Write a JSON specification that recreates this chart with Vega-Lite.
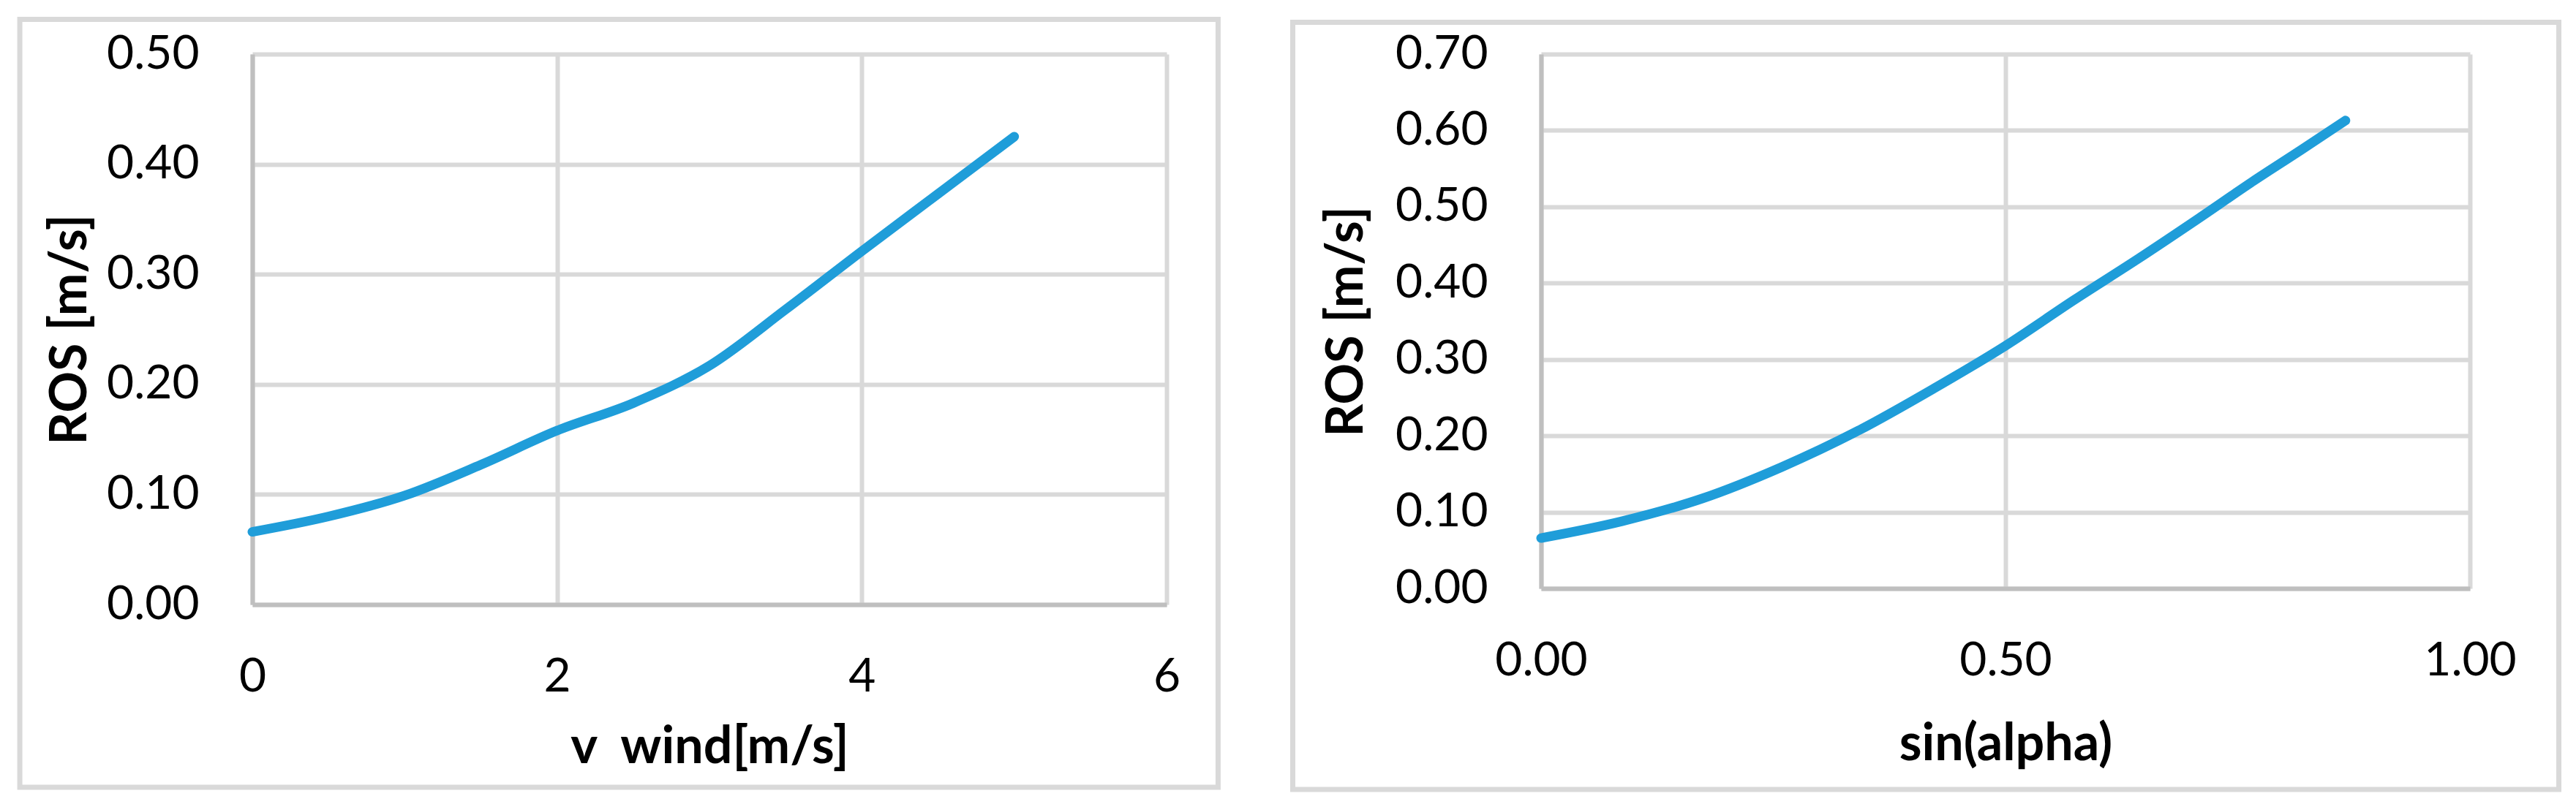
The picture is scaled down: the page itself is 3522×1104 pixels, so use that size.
{
  "$schema": "https://vega.github.io/schema/vega-lite/v6.json",
  "padding": {"left": 23, "top": 22, "right": 20, "bottom": 23},
  "background": "white",
  "spacing": 95,
  "datasets": {
    "wind": [
      {"v_wind": 0, "ros": 0.066},
      {"v_wind": 0.5, "ros": 0.080},
      {"v_wind": 1, "ros": 0.099},
      {"v_wind": 1.5, "ros": 0.127},
      {"v_wind": 2, "ros": 0.158},
      {"v_wind": 2.5, "ros": 0.183},
      {"v_wind": 3, "ros": 0.217},
      {"v_wind": 3.5, "ros": 0.268},
      {"v_wind": 4, "ros": 0.321},
      {"v_wind": 4.5, "ros": 0.373},
      {"v_wind": 5, "ros": 0.425}
    ],
    "slope": [
      {"sin_alpha": 0, "ros": 0.066},
      {"sin_alpha": 0.087, "ros": 0.088},
      {"sin_alpha": 0.174, "ros": 0.118},
      {"sin_alpha": 0.259, "ros": 0.159},
      {"sin_alpha": 0.342, "ros": 0.207},
      {"sin_alpha": 0.423, "ros": 0.262},
      {"sin_alpha": 0.5, "ros": 0.318},
      {"sin_alpha": 0.574, "ros": 0.378},
      {"sin_alpha": 0.643, "ros": 0.432},
      {"sin_alpha": 0.707, "ros": 0.484},
      {"sin_alpha": 0.766, "ros": 0.533},
      {"sin_alpha": 0.819, "ros": 0.575},
      {"sin_alpha": 0.866, "ros": 0.613}
    ],
    "frame": [{"panel": "frame"}]
  },
  "hconcat": [
    {
      "width": 1250,
      "height": 753,
      "layer": [
        {
          "data": {"name": "wind"},
          "mark": {"type": "line", "interpolate": "monotone", "color": "#1F9DD9", "strokeWidth": 13, "strokeCap": "round", "strokeJoin": "round"},
          "encoding": {
            "x": {
              "field": "v_wind", "type": "quantitative",
              "scale": {"domain": [0, 6], "nice": false, "zero": false, "padding": 0},
              "axis": {"title": "v\u00a0 wind[m/s]", "values": [0, 2, 4, 6], "format": "d", "labelPadding": 67, "titlePadding": 30}
            },
            "y": {
              "field": "ros", "type": "quantitative",
              "scale": {"domain": [0, 0.5], "nice": false, "padding": 0},
              "axis": {"title": "ROS [m/s]", "values": [0, 0.1, 0.2, 0.3, 0.4, 0.5], "format": ".2f", "labelPadding": 73, "titlePadding": 13}
            }
          }
        },
        {
          "data": {"name": "frame"},
          "mark": {"type": "rect", "filled": false, "stroke": "#D9D9D9", "strokeWidth": 7, "clip": false},
          "encoding": {
            "x": {"datum": -1.526, "type": "quantitative"},
            "x2": {"datum": 6.338},
            "y": {"datum": 0.5316, "type": "quantitative"},
            "y2": {"datum": -0.166}
          }
        }
      ]
    },
    {
      "width": 1270,
      "height": 731,
      "layer": [
        {
          "data": {"name": "slope"},
          "mark": {"type": "line", "interpolate": "monotone", "color": "#1F9DD9", "strokeWidth": 13, "strokeCap": "round", "strokeJoin": "round"},
          "encoding": {
            "x": {
              "field": "sin_alpha", "type": "quantitative",
              "scale": {"domain": [0, 1], "nice": false, "padding": 0},
              "axis": {"title": "sin(alpha)", "values": [0, 0.5, 1], "format": ".2f", "labelPadding": 67, "titlePadding": 48}
            },
            "y": {
              "field": "ros", "type": "quantitative",
              "scale": {"domain": [0, 0.7], "nice": false, "padding": 0},
              "axis": {"title": "ROS [m/s]", "values": [0, 0.1, 0.2, 0.3, 0.4, 0.5, 0.6, 0.7], "format": ".2f", "labelPadding": 73, "titlePadding": 30}
            }
          }
        },
        {
          "data": {"name": "frame"},
          "mark": {"type": "rect", "filled": false, "stroke": "#D9D9D9", "strokeWidth": 7, "clip": false},
          "encoding": {
            "x": {"datum": -0.2673, "type": "quantitative"},
            "x2": {"datum": 1.0957},
            "y": {"datum": 0.7416, "type": "quantitative"},
            "y2": {"datum": -0.2633}
          }
        }
      ]
    }
  ],
  "config": {
    "view": {"stroke": null},
    "font": "Lato",
    "scale": {"continuousPadding": 0},
    "axis": {
      "domainColor": "#BFBFBF",
      "domainWidth": 6,
      "grid": true,
      "gridColor": "#D9D9D9",
      "gridWidth": 6,
      "ticks": false,
      "tickSize": 0,
      "labelFlush": false,
      "labelOverlap": false,
      "labelFont": "Lato",
      "labelFontSize": 64,
      "labelColor": "#000000",
      "titleFont": "Lato",
      "titleFontSize": 70,
      "titleFontWeight": "bold",
      "titleColor": "#000000"
    }
  }
}
